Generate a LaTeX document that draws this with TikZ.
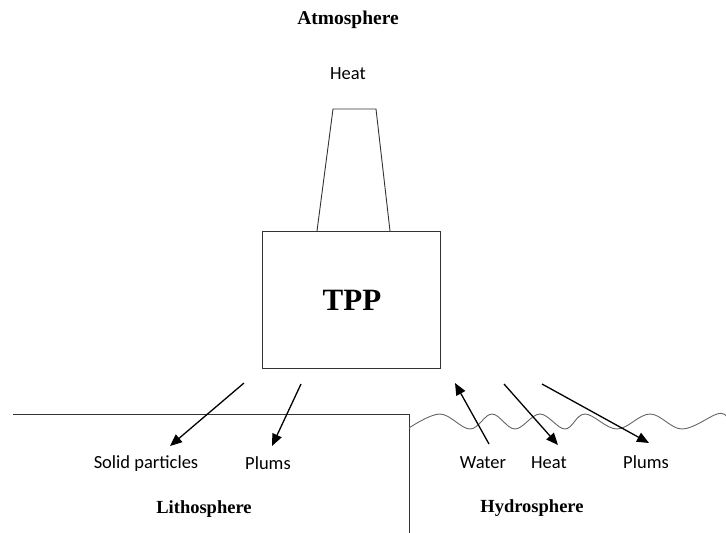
\documentclass[tikz,border=0pt]{standalone}
\usepackage{fontspec}
\setmainfont{Liberation Serif}
\newfontfamily\calfont{Carlito}
\usetikzlibrary{arrows.meta}
\begin{document}
\begin{tikzpicture}[x=1pt,y=-1pt,
  sphere/.style={font=\fontsize{18.5}{20}\selectfont\bfseries, inner sep=0pt},
  lbl/.style={font=\calfont\fontsize{18.5}{20}\selectfont, inner sep=0pt},
  outline/.style={draw=black!80, line width=0.9pt},
  flow/.style={draw=black, line width=1.3pt, -{Triangle[length=12pt,width=10pt]}}]
\useasboundingbox (0,0) rectangle (726,533);
% spheres
\node[sphere, font=\fontsize{19.5}{21}\selectfont\bfseries] (atm) at (348,20) {Atmosphere};
\node[sphere] (lith) at (204,509) {Lithosphere};
\node[sphere] (hyd) at (532,508) {Hydrosphere};
% chimney and plant
\draw[outline] (317,231) -- (333,109) -- (376,109) -- (390,231);
\node[outline, minimum width=178pt, minimum height=137pt, inner sep=0pt] (tpp) at (351,299.5) {};
\node[font=\fontsize{31}{33}\selectfont\bfseries, inner sep=0pt] (tpptext) at (352,300) {TPP};
\node[lbl] (heattop) at (348,74) {Heat};
% ground and water
\draw[outline] (13,414) -- (409,414) -- (409,533);
\draw[draw=black!60, line width=0.9pt] plot[smooth, tension=0.6] coordinates {(409,428) (440,414) (470,429) (492,414) (515,429) (540,414) (565,429) (585,414) (617,429) (650,414) (682,429) (717,414) (726,416)};
% labels
\node[lbl] (solid) at (146,464) {Solid particles};
\node[lbl] (plumsl) at (268,463) {Plums};
\node[lbl] (water) at (483,463) {Water};
\node[lbl] (heatw) at (549,463) {Heat};
\node[lbl] (plumsr) at (646,462) {Plums};
% arrow ends
\coordinate (a1) at (244,383);
\coordinate (a1e) at (170,446);
\coordinate (a2) at (301,384);
\coordinate (a2e) at (272,446);
\coordinate (a3) at (489,444);
\coordinate (a3e) at (455,383);
\coordinate (a4) at (504,384);
\coordinate (a4e) at (558,445);
\coordinate (a5) at (542,384);
\coordinate (a5e) at (649,443);
\draw[flow] (a1) -- (a1e);
\draw[flow] (a2) -- (a2e);
\draw[flow] (a3) -- (a3e);
\draw[flow] (a4) -- (a4e);
\draw[flow] (a5) -- (a5e);
\end{tikzpicture}
\end{document}
